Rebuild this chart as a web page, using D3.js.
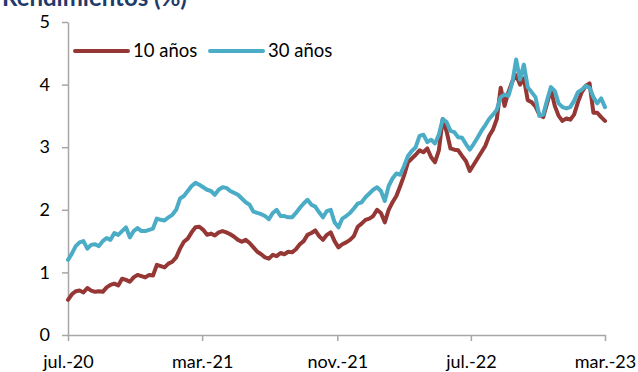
<!DOCTYPE html>
<html>
<head>
<meta charset="utf-8">
<script src="https://cdn.jsdelivr.net/npm/d3@7"></script>
<style>
  html, body { margin: 0; padding: 0; background: #fff; }
  svg { display: block; }
  text { font-family: Lato, "Open Sans", sans-serif; }
</style>
</head>
<body>
<svg id="chart" width="638" height="372"></svg>
<script>
// Weekly yields (%), first observation 1 Jul 2020, last 1 Mar 2023
const startDate = "2020-07-01";
const yield10 = [
  0.56, 0.65, 0.70, 0.71, 0.68, 0.75, 0.71, 0.69, 0.70, 0.69,
  0.76, 0.80, 0.82, 0.79, 0.90, 0.88, 0.85, 0.92, 0.96, 0.94,
  0.92, 0.96, 0.95, 1.12, 1.10, 1.08, 1.14, 1.17, 1.24, 1.38,
  1.49, 1.54, 1.64, 1.72, 1.73, 1.68, 1.60, 1.62, 1.59, 1.64,
  1.66, 1.64, 1.61, 1.57, 1.52, 1.49, 1.52, 1.47, 1.40, 1.33,
  1.29, 1.24, 1.22, 1.28, 1.26, 1.31, 1.29, 1.33, 1.32, 1.37,
  1.45, 1.50, 1.60, 1.63, 1.67, 1.58, 1.52, 1.60, 1.64, 1.50,
  1.40, 1.45, 1.48, 1.52, 1.58, 1.73, 1.78, 1.84, 1.86, 1.90,
  2.00, 1.95, 1.80, 2.00, 2.12, 2.22, 2.38, 2.55, 2.76, 2.82,
  2.88, 2.95, 2.92, 2.98, 2.84, 2.76, 2.95, 3.45, 3.25, 2.98,
  2.96, 2.95, 2.86, 2.78, 2.62, 2.72, 2.82, 2.92, 3.02, 3.18,
  3.28, 3.45, 3.95, 3.66, 3.88, 4.05, 4.15, 4.00, 4.10, 3.75,
  3.72, 3.65, 3.52, 3.48, 3.70, 3.92, 3.66, 3.50, 3.42, 3.46,
  3.44, 3.52, 3.72, 3.88, 3.98, 4.02, 3.55, 3.55, 3.48, 3.42
];
const yield30 = [
  1.20, 1.30, 1.42, 1.48, 1.50, 1.38, 1.44, 1.45, 1.42, 1.50,
  1.55, 1.52, 1.63, 1.60, 1.66, 1.72, 1.56, 1.66, 1.71, 1.66,
  1.66, 1.68, 1.70, 1.86, 1.84, 1.83, 1.88, 1.92, 2.00, 2.18,
  2.22, 2.30, 2.38, 2.43, 2.40, 2.36, 2.32, 2.30, 2.24, 2.32,
  2.36, 2.35, 2.30, 2.27, 2.24, 2.18, 2.12, 2.08, 1.97, 1.95,
  1.93, 1.90, 1.85, 1.95, 2.00, 1.90, 1.90, 1.88, 1.88, 1.95,
  2.03, 2.10, 2.16, 2.08, 2.05, 1.96, 1.88, 1.98, 2.00, 1.80,
  1.72, 1.86, 1.90, 1.95, 2.02, 2.10, 2.12, 2.20, 2.26, 2.32,
  2.36, 2.30, 2.14, 2.38, 2.50, 2.58, 2.56, 2.70, 2.86, 2.94,
  3.00, 3.18, 3.20, 3.08, 3.12, 3.06, 3.20, 3.45, 3.40, 3.26,
  3.24, 3.16, 3.15, 3.05, 2.96, 3.05, 3.15, 3.26, 3.35, 3.45,
  3.52, 3.60, 3.80, 3.84, 3.82, 4.03, 4.40, 4.08, 4.32, 3.96,
  3.88, 3.80, 3.50, 3.52, 3.75, 3.96, 3.90, 3.70, 3.64, 3.62,
  3.64, 3.74, 3.88, 3.92, 3.98, 3.95, 3.80, 3.70, 3.78, 3.64
];
const seriesNames = ["10 años", "30 años"];
const seriesColors = ["#953735", "#4bacc6"];
const xTickDates = ["2020-07-01", "2021-03-01", "2021-11-01", "2022-07-01", "2023-03-01"];
const xTickLabels = ["jul.-20", "mar.-21", "nov.-21", "jul.-22", "mar.-23"];
const yTicks = [0, 1, 2, 3, 4, 5];
const title = "Rendimientos (%)";

(function draw() {
  const parse = d3.timeParse("%Y-%m-%d");
  const t0 = parse(startDate);
  const dates = yield10.map((_, i) => d3.timeDay.offset(t0, 7 * i));

  const svg = d3.select("#chart");
  const m = { left: 68, right: 605, top: 22, bottom: 335 };

  const x = d3.scaleTime()
    .domain([parse(xTickDates[0]), parse(xTickDates[xTickDates.length - 1])])
    .range([m.left, m.right]);
  const y = d3.scaleLinear().domain([0, 5]).range([m.bottom, m.top]);

  // Title, partly above the top edge
  svg.append("text")
    .attr("x", 2).attr("y", 6)
    .attr("font-size", 24).attr("font-weight", "bold")
    .attr("fill", "#1f3b6b")
    .text(title);

  // Y axis
  const yAxis = svg.append("g")
    .attr("transform", `translate(${m.left},0)`)
    .call(d3.axisLeft(y).tickValues(yTicks).tickSize(6).tickSizeOuter(0)
      .tickPadding(12).tickFormat(d3.format("d")));
  yAxis.select(".domain").attr("stroke", "#a6a6a6").attr("stroke-width", 1.5);
  yAxis.selectAll(".tick line").attr("stroke", "#a6a6a6").attr("stroke-width", 1.5);
  yAxis.selectAll(".tick text")
    .attr("font-family", "Lato, 'Open Sans', sans-serif")
    .attr("font-size", 18).attr("fill", "#000");

  // X axis
  const xAxis = svg.append("g")
    .attr("transform", `translate(0,${m.bottom})`)
    .call(d3.axisBottom(x)
      .tickValues(xTickDates.map(parse))
      .tickSize(6).tickSizeOuter(0).tickPadding(14)
      .tickFormat((d, i) => xTickLabels[i]));
  xAxis.select(".domain").attr("stroke", "#a6a6a6").attr("stroke-width", 1.5);
  xAxis.selectAll(".tick line").attr("stroke", "#a6a6a6").attr("stroke-width", 1.5);
  xAxis.selectAll(".tick text")
    .attr("font-family", "Lato, 'Open Sans', sans-serif")
    .attr("font-size", 18).attr("fill", "#000");

  // Yield lines
  const line = d3.line()
    .x((d, i) => x(dates[i]))
    .y(d => y(d));

  [yield10, yield30].forEach((vals, k) => {
    svg.append("path")
      .datum(vals)
      .attr("fill", "none")
      .attr("stroke", seriesColors[k])
      .attr("stroke-width", 4)
      .attr("stroke-linejoin", "round")
      .attr("stroke-linecap", "round")
      .attr("d", line);
  });

  // Legend
  const legend = svg.append("g").attr("transform", "translate(75,51)");
  const legendX = [0, 135];
  seriesNames.forEach((name, k) => {
    const g = legend.append("g").attr("transform", `translate(${legendX[k]},0)`);
    g.append("line")
      .attr("x1", 0).attr("x2", 53).attr("y1", 0).attr("y2", 0)
      .attr("stroke", seriesColors[k]).attr("stroke-width", 4)
      .attr("stroke-linecap", "round");
    g.append("text")
      .attr("x", 58).attr("y", 6)
      .attr("font-size", 18.5).attr("fill", "#000")
      .text(name);
  });
})();
</script>
</body>
</html>
